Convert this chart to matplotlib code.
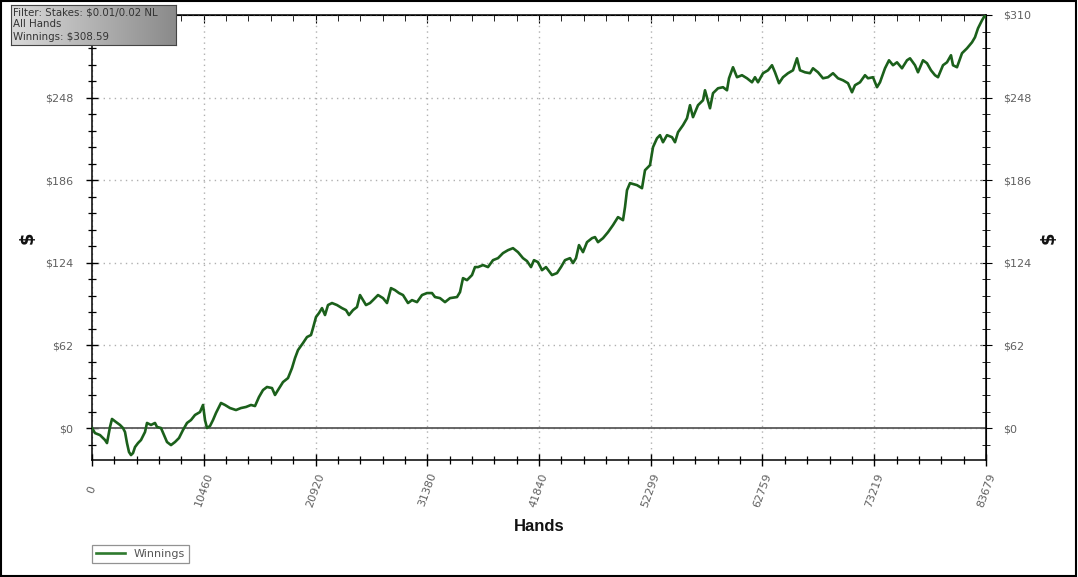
import numpy as np
import matplotlib
matplotlib.use("Agg")
import matplotlib.pyplot as plt
from matplotlib.ticker import MultipleLocator, FixedLocator
from matplotlib.colors import LinearSegmentedColormap
from matplotlib.patches import Rectangle

# cumulative winnings
hands = [
    0, 281, 749, 1217, 1404, 1685, 1872, 2246, 2621, 2902, 3089, 3276, 3463, 3650,
    3838, 4025, 4306, 4586, 4961, 5148, 5522, 5897, 6084, 6458, 6739, 7020, 7394,
    7769, 8143, 8518, 8892, 9266, 9641, 10109, 10390, 10577, 10764, 11045, 11326,
    11606, 12074, 12449, 12917, 13478, 13946, 14414, 14882, 15257, 15631, 16006,
    16380, 16848, 17129, 17410, 17878, 18346, 18720, 19001, 19282, 19750, 20124,
    20498, 20686, 20966, 21247, 21528, 21809, 22090, 22464, 22932, 23400, 23774,
    24055, 24430, 24804, 25085, 25366, 25646, 26021, 26302, 26770, 27238, 27612,
    27986, 28361, 28735, 29110, 29578, 29952, 30420, 30888, 31356, 31824, 32105,
    32573, 33041, 33509, 34164, 34445, 34726, 35100, 35568, 35849, 36130, 36598,
    37066, 37534, 38002, 38470, 38938, 39406, 39874, 40342, 40716, 41090, 41371,
    41746, 42120, 42494, 43056, 43524, 43898, 44273, 44741, 45022, 45302, 45583,
    45958, 46332, 46800, 47081, 47362, 47830, 48298, 48766, 49234, 49702, 49889,
    50076, 50357, 51012, 51480, 51761, 52229, 52510, 52884, 53165, 53446, 53820,
    54288, 54569, 54850, 55318, 55692, 55973, 56254, 56722, 57190, 57377, 57845,
    58126, 58594, 59062, 59436, 59623, 59998, 60372, 60840, 61308, 61776, 62057,
    62338, 62806, 63274, 63648, 63929, 64303, 64678, 65146, 65614, 65988, 66269,
    66737, 67205, 67486, 67954, 68422, 68890, 69358, 69826, 70294, 70762, 71136,
    71417, 71885, 72353, 72634, 73102, 73476, 73757, 74225, 74599, 74974, 75348,
    75816, 76284, 76565, 77033, 77314, 77782, 78156, 78530, 78905, 79186, 79654,
    80028, 80402, 80590, 80964, 81432, 81900, 82368, 82649, 82930, 83304, 83585,
    83679,
]
winnings = [
    0, -3.8, -5.3, -9.0, -11.3, 0.8, 6.8, 4.5, 2.3, 0.0, -3.0, -11.3, -18.0, -20.3,
    -18.8, -14.3, -11.3, -9.0, -3.0, 3.8, 2.3, 3.8, 0.8, 0.0, -5.3, -10.5, -12.8,
    -10.5, -7.5, -1.5, 3.8, 6.0, 9.8, 12.0, 17.3, 6.0, 0.0, 1.5, 6.0,
    11.3, 18.8, 17.3, 15.0, 13.5, 15.0, 15.8, 17.3, 16.5, 23.3, 28.5,
    30.8, 30.0, 24.8, 28.5, 34.5, 37.5, 45.0, 52.5, 58.5, 63.8, 68.3,
    69.8, 75.0, 83.3, 86.3, 90.0, 84.8, 92.3, 93.8, 92.3, 90.0, 88.5,
    84.8, 88.5, 90.8, 99.8, 96.0, 92.3, 93.8, 96.0, 99.8, 97.5, 93.8,
    105.0, 103.5, 101.3, 99.8, 93.8, 96.0, 94.5, 99.8, 101.3, 101.3, 98.3,
    97.5, 94.5, 97.5, 98.3, 102.0, 112.5, 111.0, 114.8, 120.8, 120.8, 122.3,
    120.8, 126.0, 127.5, 131.3, 133.5, 135.0, 132.0, 127.5, 125.3, 120.8, 126.0,
    124.5, 118.5, 120.8, 114.8, 116.3, 120.8, 126.0, 127.5, 123.8, 127.5, 137.3,
    132.0, 139.5, 142.5, 143.3, 139.5, 142.5, 147.0, 152.3, 158.3, 156.0, 165.8,
    178.5, 183.8, 182.3, 180.0, 193.5, 197.3, 210.8, 217.5, 219.8, 214.5, 219.8,
    218.3, 214.5, 222.0, 227.3, 232.5, 242.3, 233.3, 242.3, 246.0, 253.5, 240.0,
    251.3, 255.0, 255.8, 253.5, 262.5, 270.8, 263.3, 264.8, 262.5, 259.5, 263.3,
    259.5, 266.3, 268.5, 272.3, 267.0, 258.8, 263.3, 266.3, 268.5, 277.5, 268.5,
    267.0, 266.3, 270.0, 267.0, 262.5, 263.3, 266.3, 262.5, 261.0, 258.8, 252.0,
    257.3, 259.5, 264.8, 262.5, 263.3, 255.8, 259.5, 270.0, 276.0, 272.3, 274.5,
    270.0, 276.0, 277.5, 272.3, 267.0, 276.0, 273.8, 268.5, 264.8, 263.3, 272.3,
    274.5, 279.8, 272.3, 270.8, 281.3, 285.0, 289.5, 293.3, 300.0, 306.0, 309.8,
    308.59,
]

x_ticks = [0, 10460, 20920, 31380, 41840, 52299, 62759, 73219, 83679]
y_ticks = [0, 62, 124, 186, 248, 310]
y_labels = ["$0", "$62", "$124", "$186", "$248", "$310"]
info_lines = ["Filter: Stakes: $0.01/0.02 NL", "All Hands", "Winnings: $308.59"]

W, H = 1078, 577
fig = plt.figure(figsize=(W / 100, H / 100), dpi=100)
ax = fig.add_axes([92 / W, 1 - 460 / H, 894 / W, 445 / H])

ax.plot(hands, winnings, color="#1b601b", lw=1.9, label="Winnings", zorder=3)
ax.axhline(0, color="#5a5a5a", lw=1.3, zorder=2)

ax.set_xlim(0, 83679)
ax.set_ylim(-24, 310)

ax.set_xticks(x_ticks)
ax.set_xticklabels([str(v) for v in x_ticks], rotation=70, ha="center", va="center")
ax.xaxis.set_minor_locator(FixedLocator(np.linspace(0, 83679, 41)))
# top-left label sits under the info box in the original
ax.set_yticks(y_ticks, y_labels[:-1] + [""])
ax.yaxis.set_minor_locator(MultipleLocator(12.4))

ax.grid(True, which="major", color="#b0b0b0", linestyle=(0, (1, 3)), lw=1.0)
for s in ax.spines.values():
    s.set_color("black")
    s.set_linewidth(1.1)

ax.tick_params(which="both", direction="inout", color="black", labelcolor="#606060",
               labelsize=8)
ax.tick_params(which="major", length=9, width=1.0)
ax.tick_params(which="minor", length=6, width=0.9)
ax.tick_params(axis="x", pad=17)
ax.tick_params(axis="y", pad=9)

ax.set_xlabel("Hands", fontsize=12, fontweight="bold", family="Liberation Sans",
              labelpad=8, color="#111111")
ax.set_ylabel("$", fontsize=13, fontweight="bold", labelpad=6, color="#111111")

# right axis mirrors the left one
sec_y = ax.secondary_yaxis("right")
sec_y.set_yticks(y_ticks, y_labels)
sec_y.yaxis.set_minor_locator(MultipleLocator(12.4))
sec_y.tick_params(which="both", direction="inout", color="black", labelcolor="#606060",
                  labelsize=8, pad=7.5)
sec_y.tick_params(which="major", length=9)
sec_y.tick_params(which="minor", length=6)
sec_y.set_ylabel("$", fontsize=13, fontweight="bold", labelpad=6, color="#111111")

# top axis: ticks only
sec_x = ax.secondary_xaxis("top")
sec_x.set_xticks(x_ticks)
sec_x.xaxis.set_minor_locator(FixedLocator(np.linspace(0, 83679, 41)))
sec_x.tick_params(which="both", direction="in", labeltop=False, color="black")
sec_x.tick_params(which="major", length=6)
sec_x.tick_params(which="minor", length=4)

leg = ax.legend(loc="lower left", bbox_to_anchor=(92 / W, 1 - 563 / H),
                bbox_transform=fig.transFigure, fancybox=False, edgecolor="#777777",
                fontsize=8, borderpad=0.35, handlelength=2.6, borderaxespad=0,
                labelcolor="#555555")
leg.get_frame().set_linewidth(0.9)
for ln in leg.get_lines():
    ln.set_color("#2e7a2e")

# info box with grey gradient
ib = fig.add_axes([11 / W, 1 - 45 / H, 165 / W, 40 / H])
cmap = LinearSegmentedColormap.from_list("g", ["#dadada", "#8a8a8a"])
ib.imshow(np.linspace(0, 1, 256).reshape(1, -1), cmap=cmap, aspect="auto",
          extent=[0, 1, 0, 1])
ib.set_xlim(0, 1)
ib.set_ylim(0, 1)
ib.set_xticks([])
ib.set_yticks([])
for s in ib.spines.values():
    s.set_color("#444444")
for txt, yy in zip(info_lines, [0.82, 0.52, 0.2]):
    ib.text(0.012, yy, txt, va="center", ha="left", fontsize=7.4, color="#333333")

fig.patches.append(Rectangle((0.001, 0.002), 0.997, 0.996, transform=fig.transFigure,
                             fill=False, edgecolor="black", lw=1.5))

fig.savefig("out.png", dpi=100)
